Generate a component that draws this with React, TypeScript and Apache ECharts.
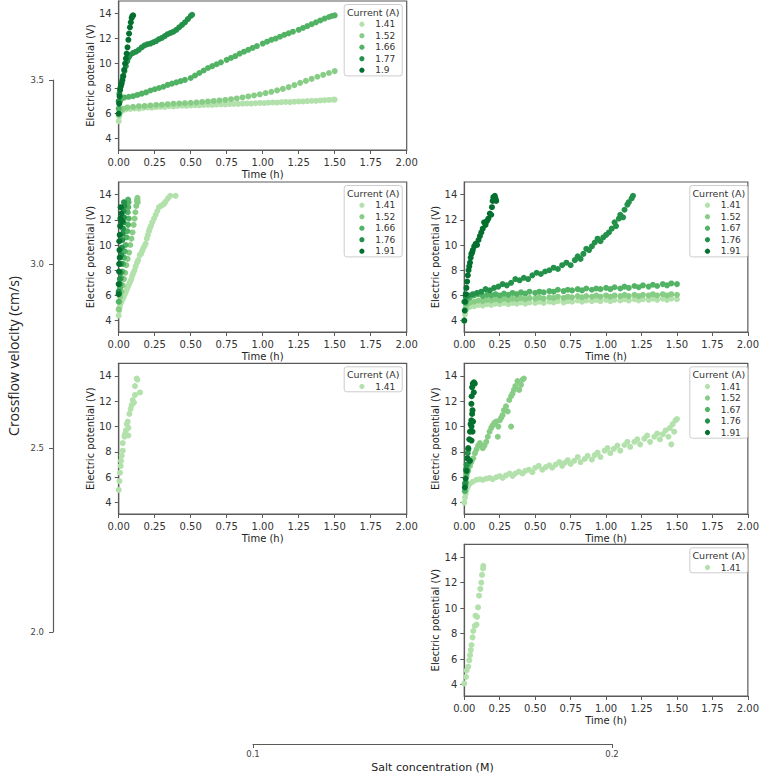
import React, { useEffect, useRef } from "react";
import * as echarts from "echarts";

const W = 762;
const H = 776;
const FONT = "DejaVu Sans";
const PALETTE = ["#b3e1ac", "#88cd86", "#52b365", "#24914a", "#04702f"];

// ---- data: [time (h), electric potential (V)] ----
const A_141 = [[0,5.4],[0.004,5.8],[0.01,6.05],[0.02,6.2],[0.03,6.3],[0.05,6.35],[0.08,6.38],[0.11,6.42],[0.14,6.4],[0.17,6.47],[0.2,6.5],[0.23,6.48],[0.26,6.53],[0.29,6.55],[0.32,6.54],[0.35,6.6],[0.38,6.58],[0.41,6.62],[0.44,6.64],[0.47,6.63],[0.5,6.66],[0.53,6.68],[0.56,6.67],[0.59,6.7],[0.62,6.71],[0.65,6.7],[0.68,6.73],[0.71,6.75],[0.74,6.74],[0.77,6.77],[0.8,6.78],[0.83,6.78],[0.86,6.8],[0.89,6.82],[0.92,6.81],[0.95,6.84],[0.98,6.86],[1.01,6.85],[1.04,6.88],[1.07,6.9],[1.1,6.89],[1.13,6.92],[1.16,6.94],[1.19,6.93],[1.22,6.96],[1.25,6.98],[1.28,6.98],[1.31,7.01],[1.34,7.03],[1.37,7.03],[1.4,7.06],[1.43,7.08],[1.46,7.1],[1.49,7.12],[1.5,7.13]];
const A_152 = [[0,5.9],[0.01,6.2],[0.03,6.4],[0.06,6.5],[0.1,6.55],[0.14,6.6],[0.18,6.62],[0.22,6.66],[0.26,6.7],[0.3,6.72],[0.34,6.76],[0.38,6.8],[0.42,6.82],[0.46,6.84],[0.5,6.87],[0.54,6.9],[0.58,6.94],[0.62,6.98],[0.66,7.02],[0.7,7.06],[0.74,7.1],[0.78,7.16],[0.82,7.22],[0.86,7.3],[0.9,7.38],[0.94,7.46],[0.98,7.55],[1.02,7.65],[1.06,7.75],[1.1,7.86],[1.14,7.98],[1.18,8.12],[1.22,8.28],[1.26,8.46],[1.3,8.62],[1.34,8.78],[1.38,8.95],[1.42,9.1],[1.46,9.25],[1.5,9.4]];
const A_166 = [[0,6.4],[0.01,7.0],[0.02,7.2],[0.04,7.3],[0.07,7.35],[0.1,7.4],[0.13,7.5],[0.16,7.6],[0.19,7.7],[0.22,7.85],[0.25,7.95],[0.28,8.05],[0.31,8.15],[0.34,8.3],[0.37,8.4],[0.4,8.5],[0.43,8.6],[0.46,8.7],[0.5,8.85],[0.53,9.05],[0.56,9.25],[0.59,9.45],[0.62,9.65],[0.65,9.8],[0.68,9.95],[0.71,10.1],[0.75,10.3],[0.78,10.45],[0.81,10.6],[0.84,10.8],[0.87,10.95],[0.9,11.1],[0.93,11.25],[0.96,11.4],[1.0,11.6],[1.03,11.75],[1.06,11.9],[1.09,12.0],[1.12,12.15],[1.15,12.3],[1.18,12.42],[1.21,12.55],[1.25,12.7],[1.28,12.85],[1.31,13.0],[1.34,13.15],[1.37,13.3],[1.4,13.45],[1.43,13.6],[1.46,13.72],[1.48,13.8],[1.5,13.85]];
const A_177 = [[0,7.0],[0.005,7.6],[0.01,8.0],[0.02,8.5],[0.03,9.0],[0.04,9.4],[0.05,9.8],[0.06,10.2],[0.07,10.5],[0.08,10.7],[0.1,10.85],[0.12,10.95],[0.14,11.1],[0.16,11.3],[0.18,11.45],[0.2,11.55],[0.22,11.6],[0.24,11.7],[0.26,11.8],[0.28,11.95],[0.3,12.05],[0.32,12.2],[0.34,12.35],[0.36,12.45],[0.38,12.55],[0.4,12.7],[0.42,12.9],[0.44,13.1],[0.46,13.3],[0.48,13.55],[0.5,13.8],[0.51,13.9]];
const A_190 = [[0,6.0],[0.003,6.8],[0.006,7.4],[0.01,7.9],[0.015,8.2],[0.02,8.4],[0.026,8.7],[0.032,9.0],[0.038,9.5],[0.044,10.0],[0.05,10.4],[0.055,10.8],[0.061,11.3],[0.067,11.9],[0.072,12.4],[0.078,12.9],[0.084,13.3],[0.09,13.65],[0.095,13.8],[0.1,13.85]];

const B_141 = [[0,4.4],[0.004,4.8],[0.007,5.06],[0.012,5.3],[0.019,5.5],[0.027,5.7],[0.035,5.9],[0.042,6.1],[0.05,6.3],[0.057,6.5],[0.065,6.7],[0.072,6.9],[0.08,7.1],[0.088,7.3],[0.095,7.6],[0.102,7.8],[0.11,8.0],[0.118,8.3],[0.127,8.6],[0.135,8.8],[0.146,9.2],[0.155,9.3],[0.162,9.5],[0.169,9.7],[0.178,9.9],[0.187,10.1],[0.195,10.5],[0.203,10.8],[0.21,11.1],[0.215,11.3],[0.224,11.5],[0.233,11.8],[0.245,12.1],[0.257,12.4],[0.268,12.7],[0.28,13.0],[0.293,13.1],[0.307,13.2],[0.317,13.3],[0.326,13.45],[0.342,13.7],[0.358,13.9],[0.395,13.9]];
const B_152 = [[0,4.9],[0.005,5.5],[0.01,5.9],[0.019,6.3],[0.028,6.8],[0.037,7.3],[0.045,7.8],[0.053,8.4],[0.062,8.9],[0.072,9.4],[0.08,10.0],[0.088,10.5],[0.096,11.0],[0.104,11.6],[0.11,12.1],[0.116,12.6],[0.122,13.1],[0.127,13.5],[0.13,13.75],[0.132,13.4],[0.13,13.6]];
const B_166 = [[0,5.5],[0.004,6.2],[0.008,6.6],[0.012,6.9],[0.018,7.4],[0.025,7.9],[0.031,8.5],[0.037,9.0],[0.043,9.5],[0.049,10.0],[0.054,10.6],[0.06,11.1],[0.065,11.6],[0.07,12.1],[0.063,12.6],[0.066,13.0],[0.068,13.4],[0.065,13.6]];
const B_176 = [[0,6.3],[0.004,6.9],[0.008,7.3],[0.012,7.8],[0.016,8.5],[0.019,9.2],[0.022,9.8],[0.025,10.4],[0.028,10.9],[0.03,11.3],[0.034,11.8],[0.037,12.2],[0.035,12.7],[0.037,13.4],[0.04,13.1]];
const B_191 = [[0,6.1],[0,6.9],[0.002,7.9],[0.003,8.5],[0.007,9.0],[0.005,9.6],[0.004,10.3],[0.007,10.8],[0.01,11.5],[0.012,12.1],[0.014,13.0],[0.018,12.5],[0.02,11.9],[0.024,11.9]];

const C_141 = [[0,4.0],[0.005,4.5],[0.01,4.8],[0.02,5.0],[0.04,5.1],[0.07,5.15],[0.1,5.25],[0.13,5.2],[0.16,5.3],[0.19,5.25],[0.22,5.35],[0.25,5.3],[0.28,5.4],[0.31,5.3],[0.34,5.4],[0.37,5.35],[0.4,5.45],[0.43,5.35],[0.46,5.45],[0.5,5.4],[0.53,5.5],[0.56,5.4],[0.6,5.5],[0.63,5.45],[0.66,5.55],[0.7,5.45],[0.73,5.55],[0.76,5.5],[0.8,5.6],[0.83,5.5],[0.86,5.6],[0.9,5.55],[0.93,5.65],[0.96,5.55],[1.0,5.65],[1.03,5.55],[1.06,5.65],[1.1,5.6],[1.13,5.7],[1.16,5.6],[1.2,5.7],[1.23,5.6],[1.26,5.7],[1.3,5.65],[1.33,5.75],[1.36,5.65],[1.4,5.75],[1.43,5.65],[1.46,5.75],[1.5,5.7]];
const C_152 = [[0.01,5.0],[0.02,5.3],[0.04,5.45],[0.07,5.5],[0.1,5.6],[0.13,5.55],[0.16,5.65],[0.19,5.6],[0.22,5.7],[0.25,5.6],[0.28,5.75],[0.31,5.65],[0.34,5.75],[0.37,5.7],[0.4,5.8],[0.43,5.7],[0.46,5.8],[0.5,5.75],[0.53,5.85],[0.56,5.75],[0.6,5.85],[0.63,5.8],[0.66,5.9],[0.7,5.8],[0.73,5.9],[0.76,5.85],[0.8,5.95],[0.83,5.85],[0.86,5.95],[0.9,5.9],[0.93,6.0],[0.96,5.9],[1.0,6.0],[1.03,5.9],[1.06,6.0],[1.1,5.95],[1.13,6.05],[1.16,5.95],[1.2,6.05],[1.23,5.95],[1.26,6.05],[1.3,6.0],[1.33,6.1],[1.36,6.0],[1.4,6.1],[1.43,6.0],[1.46,6.1],[1.5,6.05]];
const C_167 = [[0.01,5.4],[0.02,5.7],[0.04,5.85],[0.07,6.0],[0.1,6.1],[0.13,5.95],[0.16,6.05],[0.19,6.0],[0.22,6.1],[0.25,6.0],[0.28,6.15],[0.31,6.05],[0.34,6.2],[0.37,6.1],[0.4,6.25],[0.43,6.15],[0.46,6.3],[0.5,6.2],[0.53,6.3],[0.56,6.25],[0.6,6.35],[0.63,6.3],[0.66,6.45],[0.7,6.35],[0.73,6.45],[0.76,6.4],[0.8,6.5],[0.83,6.4],[0.86,6.55],[0.9,6.45],[0.93,6.55],[0.96,6.5],[1.0,6.6],[1.03,6.5],[1.06,6.65],[1.1,6.55],[1.13,6.7],[1.16,6.6],[1.2,6.75],[1.23,6.65],[1.26,6.8],[1.3,6.7],[1.33,6.85],[1.36,6.75],[1.4,6.9],[1.43,6.8],[1.46,6.95],[1.5,6.9]];
const C_176 = [[0,5.5],[0.01,5.9],[0.03,6.0],[0.06,6.1],[0.09,6.2],[0.12,6.3],[0.15,6.5],[0.18,6.4],[0.21,6.6],[0.24,6.7],[0.27,6.9],[0.3,6.8],[0.33,7.0],[0.36,7.3],[0.39,7.2],[0.42,7.4],[0.45,7.3],[0.48,7.6],[0.51,7.8],[0.54,7.7],[0.57,7.9],[0.6,8.0],[0.63,8.2],[0.66,8.1],[0.69,8.4],[0.72,8.6],[0.75,8.4],[0.78,8.8],[0.8,9.1],[0.82,8.9],[0.84,9.3],[0.86,9.7],[0.88,9.6],[0.9,9.9],[0.92,10.2],[0.94,10.5],[0.96,10.3],[0.98,10.6],[1.0,10.8],[1.02,11.0],[1.04,11.3],[1.06,11.8],[1.07,11.5],[1.09,12.1],[1.1,12.4],[1.12,12.2],[1.13,12.8],[1.15,13.2],[1.16,13.4],[1.18,13.7],[1.19,13.9]];
const C_191 = [[0,4.0],[0.003,4.8],[0.006,5.5],[0.01,6.1],[0.015,6.6],[0.02,7.1],[0.025,7.6],[0.03,8.0],[0.035,8.3],[0.04,8.6],[0.045,9.0],[0.05,9.3],[0.055,9.4],[0.06,9.6],[0.07,9.9],[0.08,10.1],[0.09,10.0],[0.1,10.4],[0.11,10.7],[0.12,11.0],[0.13,11.3],[0.14,11.8],[0.15,11.6],[0.16,11.9],[0.17,12.1],[0.18,12.5],[0.19,12.4],[0.195,13.0],[0.2,13.5],[0.205,13.8],[0.21,13.6],[0.215,13.9],[0.22,13.7],[0.225,13.5]];

const D_141 = [[0,5.0],[0.005,5.7],[0.009,6.36],[0.014,6.9],[0.016,7.3],[0.021,7.7],[0.028,8.1],[0.028,8.7],[0.04,9.2],[0.044,9.4],[0.05,9.7],[0.056,10.2],[0.063,10.4],[0.067,9.9],[0.067,9.3],[0.074,11.0],[0.083,11.4],[0.09,11.7],[0.097,12.1],[0.106,11.9],[0.113,12.5],[0.113,13.2],[0.125,13.8],[0.13,13.7],[0.148,12.7]];

const E_141 = [[0,4.0],[0.005,4.4],[0.01,4.7],[0.016,5.0],[0.025,5.25],[0.04,5.5],[0.06,5.65],[0.086,5.8],[0.11,5.85],[0.13,5.8],[0.155,5.9],[0.18,5.95],[0.2,5.85],[0.225,6.0],[0.25,6.1],[0.27,5.95],[0.294,6.15],[0.32,6.3],[0.34,6.1],[0.36,6.3],[0.385,6.45],[0.41,6.3],[0.43,6.5],[0.456,6.6],[0.48,6.4],[0.5,6.75],[0.525,6.9],[0.55,6.6],[0.575,6.8],[0.6,6.95],[0.62,6.75],[0.645,7.0],[0.67,7.2],[0.69,6.9],[0.71,7.15],[0.73,7.35],[0.75,7.05],[0.775,7.3],[0.8,7.6],[0.82,7.2],[0.85,7.45],[0.87,7.7],[0.9,7.4],[0.92,7.75],[0.94,7.95],[0.96,7.6],[0.99,8.1],[1.01,8.3],[1.03,7.9],[1.055,8.25],[1.08,8.5],[1.1,8.1],[1.13,8.55],[1.15,8.8],[1.17,8.4],[1.2,8.8],[1.22,9.0],[1.24,8.6],[1.27,9.05],[1.29,9.3],[1.31,8.8],[1.34,9.2],[1.36,9.45],[1.38,9.0],[1.4,9.4],[1.42,9.7],[1.44,9.2],[1.45,9.9],[1.46,8.6],[1.47,10.2],[1.48,9.6],[1.49,10.5],[1.5,10.6]];
const E_152 = [[0.01,5.6],[0.016,6.1],[0.028,6.5],[0.04,6.9],[0.05,7.2],[0.063,7.5],[0.075,7.9],[0.086,8.2],[0.098,8.5],[0.11,8.7],[0.12,8.5],[0.13,8.3],[0.142,8.5],[0.155,8.8],[0.166,9.2],[0.178,9.6],[0.19,9.9],[0.2,10.1],[0.212,10.3],[0.225,10.4],[0.236,9.2],[0.24,10.0],[0.25,10.5],[0.26,10.7],[0.27,10.9],[0.28,11.3],[0.294,11.6],[0.306,11.2],[0.317,12.1],[0.33,10.0],[0.33,12.4],[0.34,12.6],[0.35,12.9],[0.36,13.2],[0.375,13.6],[0.387,12.9],[0.4,13.3],[0.41,13.7],[0.42,13.8]];
const E_167 = [[0.004,4.9],[0.008,5.4],[0.01,5.6],[0.016,6.3],[0.022,6.6],[0.028,7.0]];
const E_176 = [[0.006,5.5],[0.012,6.6],[0.016,7.0],[0.02,7.5],[0.024,7.9],[0.028,8.2]];
const E_191 = [[0.004,5.2],[0.01,5.9],[0.016,6.5],[0.023,7.5],[0.028,8.3],[0.035,9.0],[0.04,9.6],[0.044,10.2],[0.05,10.5],[0.051,10.0],[0.055,11.0],[0.058,11.3],[0.05,11.8],[0.052,12.4],[0.055,13.1],[0.06,13.4],[0.068,13.5],[0.074,13.4],[0.067,12.7],[0.058,9.6],[0.051,8.9],[0.04,7.3],[0.062,10.4]];

const F_141 = [[0,4.08],[0.012,4.6],[0.016,5.1],[0.028,5.4],[0.035,5.9],[0.04,6.3],[0.046,6.7],[0.051,7.1],[0.058,7.7],[0.063,8.2],[0.074,8.6],[0.086,8.7],[0.079,9.4],[0.09,9.3],[0.097,10.05],[0.104,10.97],[0.113,11.5],[0.12,12.0],[0.125,12.6],[0.132,13.1],[0.134,13.3]];

// ---- labels / ticks ----
const LABELS_A = ["1.41", "1.52", "1.66", "1.77", "1.9"];
const LABELS_B = ["1.41", "1.52", "1.66", "1.76", "1.91"];
const LABELS_CE = ["1.41", "1.52", "1.67", "1.76", "1.91"];
const LABELS_ONE = ["1.41"];
const VOLT_TICKS = [4, 6, 8, 10, 12, 14];
const VELOCITY_TICKS = [2.0, 2.5, 3.0, 3.5];
const SALT_TICKS = [0.1, 0.2];

const PANELS = [
  { row: 0, col: 0, labels: LABELS_A, data: [A_141, A_152, A_166, A_177, A_190] },
  { row: 1, col: 0, labels: LABELS_B, data: [B_141, B_152, B_166, B_176, B_191] },
  { row: 1, col: 1, labels: LABELS_CE, data: [C_141, C_152, C_167, C_176, C_191] },
  { row: 2, col: 0, labels: LABELS_ONE, data: [D_141] },
  { row: 2, col: 1, labels: LABELS_CE, data: [E_141, E_152, E_167, E_176, E_191] },
  { row: 3, col: 1, labels: LABELS_ONE, data: [F_141] },
];

// ---- layout ----
const COL_LEFT = [118.7, 464.3];
const PANEL_W = 288;
const ROW_TOP = [1, 182, 363.3, 544.3];
const ROW_BOTTOM = [150, 332, 514, 696];
const FRAME = "#5a5a5a";
const TXT = "#333";

function buildOption() {
  const grid: any[] = [];
  const xAxis: any[] = [];
  const yAxis: any[] = [];
  const series: any[] = [];
  const graphic: any[] = [];

  PANELS.forEach((p, i) => {
    const left = COL_LEFT[p.col];
    const top = ROW_TOP[p.row];
    const height = ROW_BOTTOM[p.row] - top;
    grid.push({ left, top, width: PANEL_W, height, show: true, borderColor: FRAME, borderWidth: 1.2, backgroundColor: "transparent" });
    xAxis.push({
      type: "value", gridIndex: i, min: 0, max: 2, interval: 0.25,
      axisLine: { show: true, onZero: false, lineStyle: { color: FRAME, width: 1.2 } },
      axisTick: { show: true, length: 4, lineStyle: { color: FRAME, width: 1 } },
      axisLabel: { fontSize: 10, color: TXT, margin: 7, fontFamily: FONT, formatter: (v: number) => v.toFixed(2) },
      splitLine: { show: false },
      name: "Time (h)", nameLocation: "middle", nameGap: 19,
      nameTextStyle: { fontSize: 10, color: "#222", fontFamily: FONT },
    });
    yAxis.push({
      type: "value", gridIndex: i, min: 3.1, max: 15,
      axisLine: { show: true, onZero: false, lineStyle: { color: FRAME, width: 1.2 } },
      axisTick: { show: true, length: 4, customValues: VOLT_TICKS, lineStyle: { color: FRAME, width: 1 } },
      axisLabel: { fontSize: 10, color: TXT, margin: 7, fontFamily: FONT, customValues: VOLT_TICKS },
      splitLine: { show: false },
      name: "Electric potential (V)", nameLocation: "middle", nameGap: 20, nameRotate: 90,
      nameTextStyle: { fontSize: 10, color: "#222", fontFamily: FONT },
    });
    p.data.forEach((d, k) => {
      series.push({
        type: "scatter", name: p.labels[k], xAxisIndex: i, yAxisIndex: i,
        data: d, symbol: "circle", symbolSize: 6,
        itemStyle: { color: PALETTE[k], opacity: 1 },
        z: 2,
      });
    });
    // legend box, title and entries
    const n = p.labels.length;
    const boxW = 58;
    const boxH = 25 + (n - 1) * 11.6;
    const boxLeft = left + PANEL_W - 4.5 - boxW;
    const boxTop = top + 3.5;
    graphic.push({
      type: "rect", z: 3, silent: true,
      shape: { x: boxLeft, y: boxTop, width: boxW, height: boxH, r: 2.5 },
      style: { fill: "rgba(255,255,255,0.85)", stroke: "#cccccc", lineWidth: 1 },
    });
    graphic.push({
      type: "text", z: 6, silent: true, x: boxLeft + boxW / 2, y: boxTop + 7.5,
      style: { text: "Current (A)", fill: TXT, fontSize: 9.5, fontFamily: FONT, align: "center", verticalAlign: "middle" },
    });
    p.labels.forEach((lab, k) => {
      const cy = boxTop + 19.7 + k * 11.5;
      graphic.push({
        type: "circle", z: 6, silent: true,
        shape: { cx: boxLeft + 17.7, cy, r: 2.6 },
        style: { fill: PALETTE[k] },
      });
      graphic.push({
        type: "text", z: 6, silent: true, x: boxLeft + 31, y: cy,
        style: { text: lab, fill: TXT, fontSize: 9, fontFamily: FONT, align: "left", verticalAlign: "middle" },
      });
    });
  });

  // outer velocity axis
  grid.push({ left: 53, top: 80, width: 1, height: 552, show: false });
  xAxis.push({ type: "value", gridIndex: 6, show: false, min: 0, max: 1 });
  yAxis.push({
    type: "value", gridIndex: 6, min: 2, max: 3.5, interval: 0.5,
    axisLine: { show: true, lineStyle: { color: FRAME, width: 1.2 } },
    axisTick: { show: true, length: 4, customValues: VELOCITY_TICKS, lineStyle: { color: FRAME } },
    axisLabel: { fontSize: 8.5, color: "#444", margin: 9, fontFamily: FONT, customValues: VELOCITY_TICKS, formatter: (v: number) => v.toFixed(1) },
    splitLine: { show: false },
    name: "Crossflow velocity (cm/s)", nameLocation: "middle", nameGap: 33, nameRotate: 90,
    nameTextStyle: { fontSize: 14, color: "#222", fontFamily: "Open Sans" },
  });
  // outer salt axis
  grid.push({ left: 253, top: 743, width: 359, height: 1, show: false });
  xAxis.push({
    type: "value", gridIndex: 7, min: 0.1, max: 0.2,
    axisLine: { show: true, onZero: false, lineStyle: { color: FRAME, width: 1.2 } },
    axisTick: { show: true, length: 4, customValues: SALT_TICKS, lineStyle: { color: FRAME } },
    axisLabel: { fontSize: 8.5, color: "#444", margin: 5, fontFamily: FONT, customValues: SALT_TICKS, formatter: (v: number) => v.toFixed(1) },
    splitLine: { show: false },
    name: "Salt concentration (M)", nameLocation: "middle", nameGap: 18,
    nameTextStyle: { fontSize: 11, color: "#222", fontFamily: FONT },
  });
  yAxis.push({ type: "value", gridIndex: 7, show: false, min: 0, max: 1 });

  return {
    animation: false,
    backgroundColor: "#ffffff",
    textStyle: { fontFamily: FONT },
    grid, xAxis, yAxis, series, graphic,
  };
}

export default function App() {
  const ref = useRef<HTMLDivElement>(null);
  useEffect(() => {
    if (!ref.current) return;
    const chart = echarts.init(ref.current, undefined, { renderer: "svg", width: W, height: H });
    chart.setOption(buildOption() as any);
    return () => chart.dispose();
  }, []);
  return <div ref={ref} style={{ position: "absolute", left: 0, top: 0, width: W, height: H }} />;
}
